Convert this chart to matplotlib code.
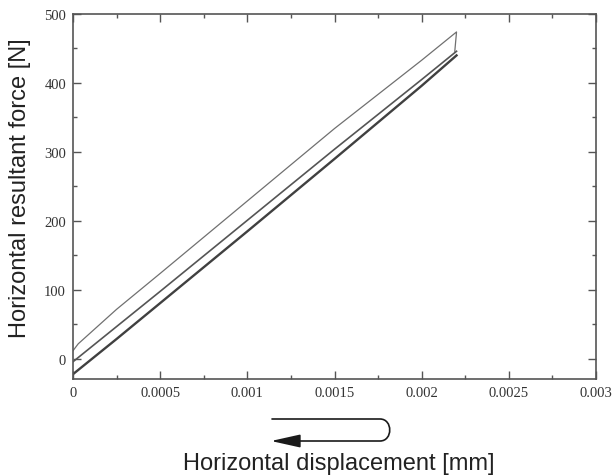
import matplotlib
matplotlib.use("Agg")
import matplotlib.pyplot as plt
from matplotlib.path import Path
from matplotlib.patches import FancyArrowPatch
from matplotlib.ticker import MultipleLocator

# displacement [mm] and force [N] for the three branches of the loop
x_lower = [0, 0.00025, 0.0005, 0.001, 0.0015, 0.002, 0.0021, 0.0022]
f_lower = [-22, 29, 81, 185, 290, 396, 418, 440]

x_middle = [0, 0.00025, 0.0005, 0.001, 0.0015, 0.002, 0.0022]
f_middle = [-4, 47, 98, 201, 304, 405, 446]

x_upper = [0, 0.00003, 0.00025, 0.0005, 0.001, 0.0015, 0.002, 0.0022, 0.00219]
f_upper = [12, 22, 72, 124, 229, 334, 433, 474, 446]

x_ticks = [0, 0.0005, 0.001, 0.0015, 0.002, 0.0025, 0.003]
x_ticklabels = ["0", "0.0005", "0.001", "0.0015", "0.002", "0.0025", "0.003"]
y_ticks = [0, 100, 200, 300, 400, 500]

W, H = 612, 477
fig = plt.figure(figsize=(W / 100, H / 100), dpi=100)
ax = fig.add_axes([73 / W, 1 - 380 / H, (596 - 73) / W, (380 - 15) / H])

ax.plot(x_upper, f_upper, color="#707070", lw=0.9)
ax.plot(x_middle, f_middle, color="#555555", lw=1.2)
ax.plot(x_lower, f_lower, color="#404040", lw=1.7)

ax.set_xlim(0, 0.003)
ax.set_ylim(-29, 500)
ax.set_xticks(x_ticks)
ax.set_xticklabels(x_ticklabels)
ax.set_yticks(y_ticks)
ax.xaxis.set_minor_locator(MultipleLocator(0.00025))
ax.yaxis.set_minor_locator(MultipleLocator(50))
ax.tick_params(which="both", direction="in", top=True, right=True,
               color="#555555", width=1.0)
ax.tick_params(which="major", length=6, pad=5)
ax.tick_params(which="minor", length=3)
for lab in ax.get_xticklabels() + ax.get_yticklabels():
    lab.set_fontfamily("Liberation Serif")
    lab.set_fontsize(10.5)
    lab.set_color("#333333")
for s in ax.spines.values():
    s.set_color("#555555")
    s.set_linewidth(1.2)

fig.text(20 / W, 1 - 188 / H, "Horizontal resultant force [N]", rotation=90,
         ha="center", va="center", fontsize=17, family="Liberation Sans",
         color="#222222")
fig.text(339 / W, 1 - 464 / H, "Horizontal displacement [mm]",
         ha="center", va="center", fontsize=17, family="Liberation Sans",
         color="#222222")

# U-shaped arrow drawn under the axis (pixel coords -> figure fraction)
def fp(x, y):
    return (x / W, 1 - y / H)

verts = [fp(272, 420), fp(380, 420), fp(393, 420), fp(393, 442),
         fp(380, 442), fp(271, 442)]
codes = [Path.MOVETO, Path.LINETO, Path.CURVE4, Path.CURVE4, Path.CURVE4,
         Path.LINETO]
arrow = FancyArrowPatch(path=Path(verts, codes),
                        arrowstyle="-|>,head_length=18,head_width=4",
                        color="#1a1a1a", lw=1.2, transform=fig.transFigure)
fig.add_artist(arrow)

fig.savefig("out.png", dpi=100)
